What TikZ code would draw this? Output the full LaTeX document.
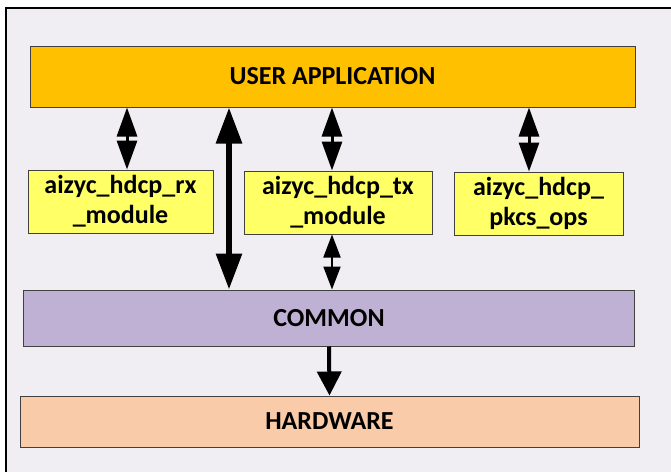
\documentclass[tikz,border=0pt]{standalone}
\usepackage{fontspec}
\setmainfont{Carlito}
\usepackage{xcolor}
\usepackage{tikz}
\usetikzlibrary{arrows.meta,positioning,shapes}

\definecolor{panelbg}{RGB}{240,238,243}
\definecolor{appfill}{RGB}{255,192,0}
\definecolor{modfill}{RGB}{255,255,102}
\definecolor{commonfill}{RGB}{191,177,212}
\definecolor{hwfill}{RGB}{249,203,168}

\tikzset{
    layer/.style={draw=black!75, line width=0.5pt, inner sep=0pt, align=center,
        font=\bfseries\fontsize{13}{15}\selectfont},
    modbox/.style={layer, fill=modfill, minimum height=31.5pt},
    dbl/.style={line width=1.5pt, {Triangle[length=14.5pt,width=10pt]}-{Triangle[length=14.5pt,width=10pt]}},
}

\begin{document}
\begin{tikzpicture}[x=0.5pt,y=-0.5pt]
    \useasboundingbox (0,0) rectangle (671,472);
    \clip (0,0) rectangle (671,472);

    % Panel
    \fill[white] (0,0) rectangle (671,472);
    \filldraw[fill=panelbg, draw=black, line width=1pt] (6,8) rectangle (700,500);

    % Layers
    \node[layer, fill=appfill, minimum width=302.5pt, minimum height=30.5pt] (app) at (332.5,76.5) {USER APPLICATION};
    \node[modbox, minimum width=92.5pt] (rx) at (120.5,201.5) {aizyc\_hdcp\_rx\\\_module};
    \node[modbox, minimum width=94pt] (tx) at (338,202.5) {aizyc\_hdcp\_tx\\\_module};
    \node[modbox, minimum width=84.5pt] (pkcs) at (538.5,203.5) {aizyc\_hdcp\_\\pkcs\_ops};
    \node[layer, fill=commonfill, minimum width=305.5pt, minimum height=28pt] (common) at (329,318) {COMMON};
    \node[layer, fill=hwfill, minimum width=309.5pt, minimum height=25.5pt] (hw) at (329.5,421.5) {HARDWARE};

    % Arrows
    \draw[dbl] ([xshift=3.25pt]rx.north) -- ([xshift=3.25pt]rx.north |- app.south);
    \draw[dbl] ([xshift=-3pt]tx.north) -- ([xshift=-3pt]tx.north |- app.south);
    \draw[dbl] ([xshift=-4.75pt]pkcs.north) -- ([xshift=-4.75pt]pkcs.north |- app.south);
    \draw[line width=3pt, {Triangle[length=18pt,width=12.5pt]}-{Triangle[length=18pt,width=12.5pt]}]
        ([xshift=-51.75pt]app.south) -- ([xshift=-51.75pt]app.south |- common.north);
    \draw[line width=1pt, {Triangle[length=11.5pt,width=8.5pt]}-{Triangle[length=11.5pt,width=8.5pt]}]
        ([xshift=-3pt]tx.south) -- ([xshift=-3pt]tx.south |- common.north);
    \draw[line width=2pt, -{Triangle[length=12pt,width=12pt]}] (common.south) -- (hw.north);
\end{tikzpicture}
\end{document}
